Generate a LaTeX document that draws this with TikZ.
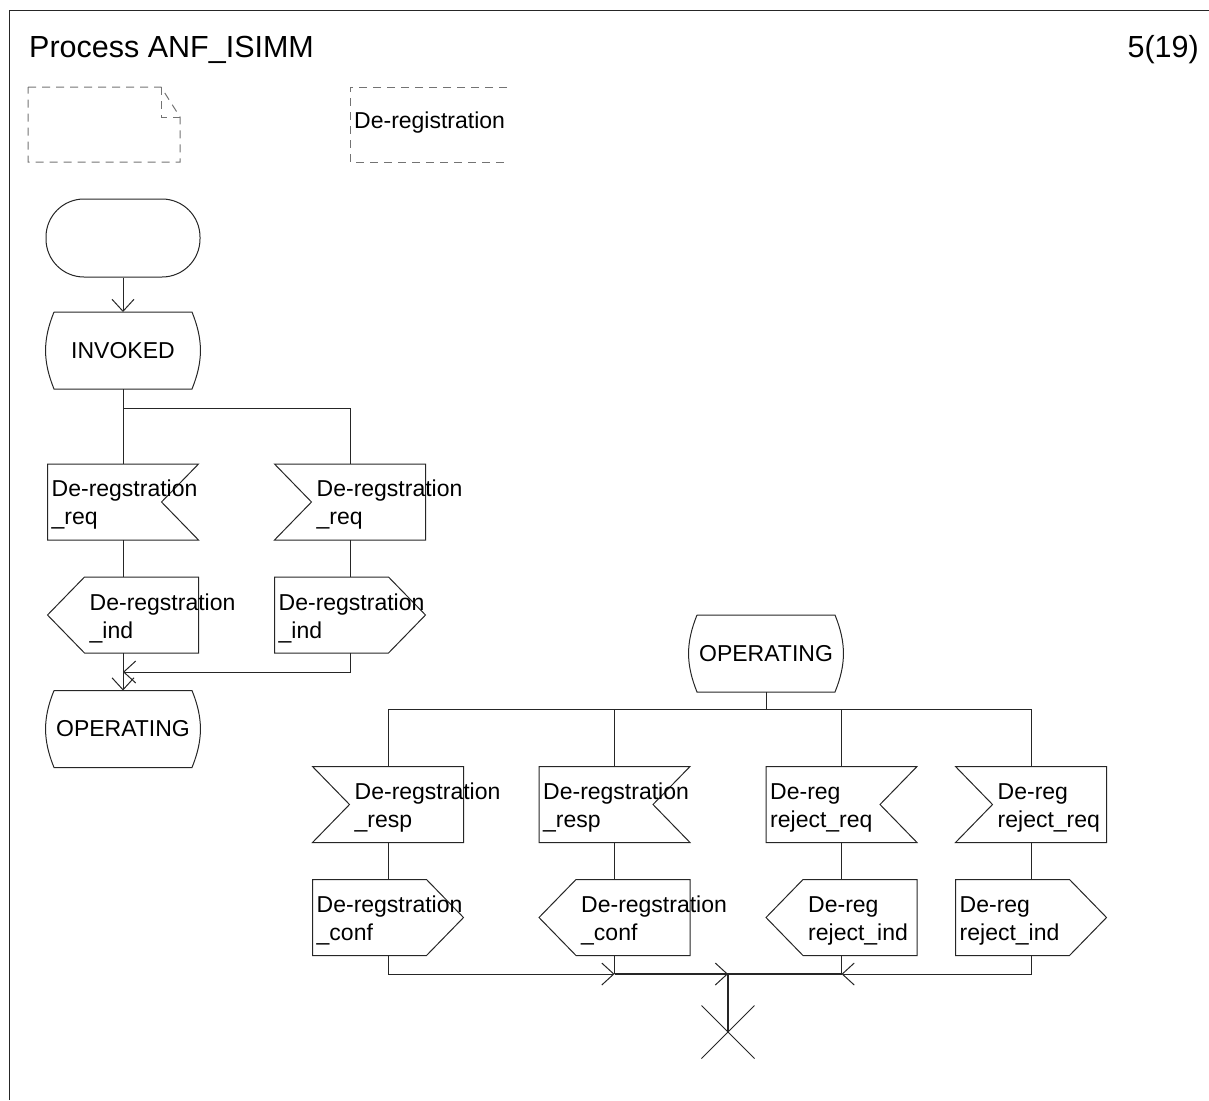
\documentclass[tikz,border=0pt]{standalone}
\usepackage{fontspec}
\setmainfont{Liberation Sans}
\usetikzlibrary{arrows.meta,shapes.misc,calc}
\newcommand{\sigNR}[3]{% notch on the right
  \node[sbox] (#1) at (#2) {};
  \draw[ln] (#1.north west) -- (#1.north east) -- ([xshift=-37pt]#1.east) -- (#1.south east) -- (#1.south west) -- cycle;
  \node[stxt] (#1t) at ([xshift=4pt,yshift=-3pt]#1.west) {#3};}
\newcommand{\sigNL}[3]{% notch on the left
  \node[sbox] (#1) at (#2) {};
  \draw[ln] (#1.north west) -- (#1.north east) -- (#1.south east) -- (#1.south west) -- ([xshift=37pt]#1.west) -- cycle;
  \node[stxt] (#1t) at ([xshift=42pt,yshift=-3pt]#1.west) {#3};}
\newcommand{\sigPR}[3]{% point on the right
  \node[sbox] (#1) at (#2) {};
  \draw[ln] (#1.north west) -- ([xshift=-37pt]#1.north east) -- (#1.east) -- ([xshift=-37pt]#1.south east) -- (#1.south west) -- cycle;
  \node[stxt] (#1t) at ([xshift=4pt,yshift=-3pt]#1.west) {#3};}
\newcommand{\sigPL}[3]{% point on the left
  \node[sbox] (#1) at (#2) {};
  \draw[ln] ([xshift=37pt]#1.north west) -- (#1.north east) -- (#1.south east) -- ([xshift=37pt]#1.south west) -- (#1.west) -- cycle;
  \node[stxt] (#1t) at ([xshift=42pt,yshift=-3pt]#1.west) {#3};}
\newcommand{\sdlstate}[3]{%
  \node[stbox] (#1) at (#2) {#3};
  \draw[ln] ([xshift=8pt]#1.north west) -- ([xshift=-8pt]#1.north east) to[bend left=22] ([xshift=-8pt]#1.south east) -- ([xshift=8pt]#1.south west) to[bend left=22] ([xshift=8pt]#1.north west);}
\begin{document}
\begin{tikzpicture}[x=1pt,y=-1pt,
  ln/.style={draw=black!85, line width=1pt},
  arr/.style={-{Straight Barb[length=12pt,width=22pt]}},
  sbox/.style={minimum width=151pt, minimum height=76pt, inner sep=0pt, outer sep=0pt},
  stbox/.style={minimum width=154pt, minimum height=77pt, inner sep=0pt, outer sep=0pt, font=\fontsize{23}{28}\selectfont},
  stxt/.style={anchor=west, inner sep=0pt, align=left, font=\fontsize{23}{28}\selectfont},
  cmt/.style={draw=black!55, line width=1pt, dash pattern=on 8pt off 6pt},
  ttl/.style={inner sep=0pt, font=\fontsize{30.5}{36}\selectfont}]
\useasboundingbox (0,0) rectangle (1209,1100);
\draw[ln] (9,1100) -- (9,10) -- (1209,10);
\node[ttl, anchor=base west] (title) at (29,57) {Process ANF\_ISIMM};
\node[ttl, anchor=base east] (page) at (1199,57) {5(19)};
% comments
\draw[cmt] (28,87) -- (161,87) -- (180,117) -- (180,162) -- (28,162) -- cycle;
\draw[cmt] (161,87) -- (161,117) -- (180,117);
\draw[cmt] (507,87) -- (350,87) -- (350,162) -- (507,162);
\node[stxt] (cmt2) at (354,123) {De-registration};
% left column
\node[draw=black!85, line width=1pt, rounded corners=38pt, minimum width=154pt, minimum height=78pt, inner sep=0pt] (st) at (123,238) {};
\sdlstate{inv}{123,350.5}{INVOKED}
\sigNR{s1}{123,502}{De-regstration\\\_req}
\sigNL{s2}{350,502}{De-regstration\\\_req}
\sigPL{o1}{123,615}{De-regstration\\\_ind}
\sigPR{o2}{350,615}{De-regstration\\\_ind}
\sdlstate{op1}{123,729}{OPERATING}
% right part
\sdlstate{op2}{766,653.5}{OPERATING}
\sigNL{sa}{388,804.5}{De-regstration\\\_resp}
\sigNR{sb}{614.5,804.5}{De-regstration\\\_resp}
\sigNR{sc}{841.5,804.5}{De-reg\\reject\_req}
\sigNL{sd}{1031,804.5}{De-reg\\reject\_req}
\sigPR{oa}{388,917.5}{De-regstration\\\_conf}
\sigPL{ob}{614.5,917.5}{De-regstration\\\_conf}
\sigPL{oc}{841.5,917.5}{De-reg\\reject\_ind}
\sigPR{od}{1031,917.5}{De-reg\\reject\_ind}
\node[draw=black!85, line width=1pt, cross out, minimum size=52pt, inner sep=0pt] (stp) at (728,1032) {};
% connectors
\draw[ln,arr] (st.south) -- (inv.north);
\coordinate (b1) at (123,408);
\draw[ln] (inv.south) -- (b1) -| (s2.north);
\draw[ln] (b1) -- (s1.north);
\foreach \a/\b in {s1/o1, s2/o2, sa/oa, sb/ob, sc/oc, sd/od} \draw[ln] (\a.south) -- (\b.north);
\coordinate (m1) at (123,672);
\draw[ln,arr] (o2.south) |- (m1);
\draw[ln,arr] (o1.south) -- (op1.north);
\coordinate (b2) at (766,709);
\draw[ln] (op2.south) -- (b2);
\draw[ln] (sa.north) |- (b2);
\draw[ln] (sd.north) |- (b2);
\draw[ln] (sb.north) -- (sb.north |- b2);
\draw[ln] (sc.north) -- (sc.north |- b2);
\coordinate (jB) at (614.5,974);
\coordinate (jC) at (841.5,974);
\coordinate (jX) at (728,974);
\draw[ln,arr] (oa.south) |- (jB);
\draw[ln] (ob.south) -- (jB);
\draw[ln,arr] (od.south) |- (jC);
\draw[ln] (oc.south) -- (jC);
\draw[ln,line width=2pt] (jB) -- (jC);
\draw[ln,line width=2pt] (jX) -- (stp.center);
\draw[ln,arr] (jB) -- (jX);
\end{tikzpicture}
\end{document}
